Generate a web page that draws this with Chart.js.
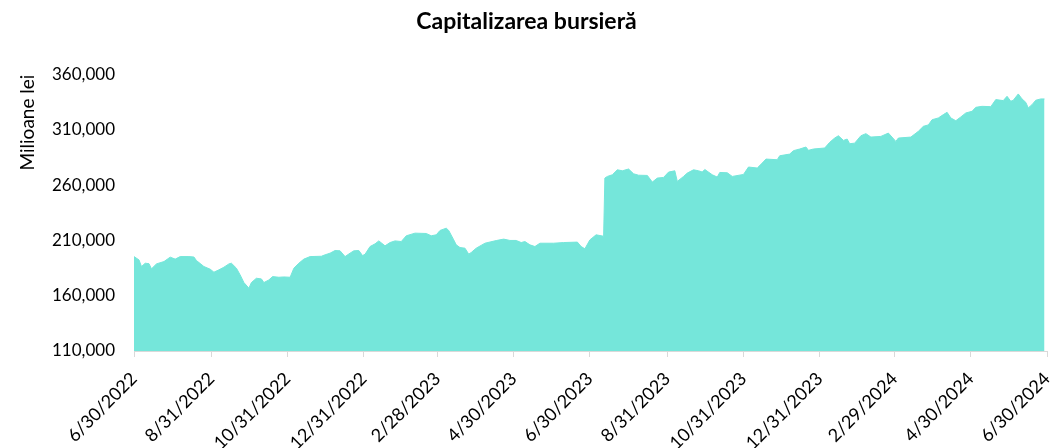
<!DOCTYPE html>
<html>
<head>
<meta charset="utf-8">
<script src="https://cdn.jsdelivr.net/npm/chart.js@4"></script>
<style>
  html, body { margin: 0; padding: 0; background: #fff; }
  #wrap { width: 1053px; height: 448px; }
</style>
</head>
<body>
<div id="wrap"><canvas id="capChart" width="1053" height="448"></canvas></div>
<script>
// --- Data ---
const START_DATE = '2022-06-30';

const dates = [
  '2022-06-30','2022-07-04','2022-07-06','2022-07-09','2022-07-12','2022-07-14','2022-07-18','2022-07-24','2022-07-29',
  '2022-08-02','2022-08-06','2022-08-13','2022-08-17','2022-08-19','2022-08-25','2022-08-30',
  '2022-09-02','2022-09-06','2022-09-10','2022-09-14','2022-09-16','2022-09-20','2022-09-23','2022-09-26','2022-09-30',
  '2022-10-02','2022-10-06','2022-10-10','2022-10-12','2022-10-16','2022-10-19','2022-10-24','2022-10-28',
  '2022-11-02','2022-11-05','2022-11-09','2022-11-13','2022-11-18','2022-11-27','2022-11-30',
  '2022-12-04','2022-12-08','2022-12-12','2022-12-16','2022-12-20','2022-12-23','2022-12-27','2022-12-30',
  '2023-01-01','2023-01-05','2023-01-09','2023-01-12','2023-01-17','2023-01-21','2023-01-25','2023-01-30',
  '2023-02-03','2023-02-10','2023-02-19','2023-02-23','2023-02-27',
  '2023-03-02','2023-03-07','2023-03-09','2023-03-13','2023-03-15','2023-03-18','2023-03-22','2023-03-25','2023-03-27','2023-03-31',
  '2023-04-07','2023-04-16','2023-04-22','2023-04-27',
  '2023-05-02','2023-05-06','2023-05-09','2023-05-13','2023-05-17','2023-05-21',
  '2023-06-01','2023-06-09','2023-06-20','2023-06-23','2023-06-26','2023-06-30',
  '2023-07-05','2023-07-11','2023-07-12','2023-07-14','2023-07-18','2023-07-22','2023-07-26','2023-07-31',
  '2023-08-04','2023-08-08','2023-08-15','2023-08-19','2023-08-23','2023-08-28',
  '2023-09-01','2023-09-06','2023-09-08','2023-09-13','2023-09-16','2023-09-21','2023-09-25','2023-09-28','2023-09-30',
  '2023-10-06','2023-10-10','2023-10-12','2023-10-18','2023-10-22','2023-10-31',
  '2023-11-04','2023-11-11','2023-11-15','2023-11-18','2023-11-27','2023-11-29',
  '2023-12-07','2023-12-10','2023-12-15','2023-12-20','2023-12-22','2023-12-26',
  '2024-01-04','2024-01-08','2024-01-12','2024-01-15','2024-01-19','2024-01-22','2024-01-24','2024-01-28',
  '2024-02-02','2024-02-06','2024-02-10','2024-02-18','2024-02-24',
  '2024-03-01','2024-03-03','2024-03-13','2024-03-19','2024-03-23','2024-03-27','2024-03-30',
  '2024-04-04','2024-04-08','2024-04-11','2024-04-14','2024-04-18','2024-04-22','2024-04-26',
  '2024-05-01','2024-05-04','2024-05-09','2024-05-16','2024-05-20','2024-05-26','2024-05-29',
  '2024-06-01','2024-06-03','2024-06-07','2024-06-10','2024-06-13','2024-06-15','2024-06-18','2024-06-21','2024-06-25','2024-06-28'
];

const capitalizare = [
  195400,192400,186400,189400,189000,184300,188800,190900,194900,
  193100,195400,195400,195000,191800,186400,184000,
  181300,183400,185800,188800,189400,184900,178800,171900,166800,
  171900,175800,175200,171900,174300,177300,176700,177000,
  176700,184900,189400,193100,195400,195700,197000,
  198500,200900,200600,195400,198500,200600,200900,196300,
  197500,204500,206900,209600,205100,208100,209600,209000,
  214200,216600,216300,214200,215100,
  219000,221100,219000,210500,206000,203600,203000,197600,199100,203000,
  207500,209900,211200,210000,
  210000,208100,209000,206000,204500,207500,
  207500,208100,208500,204500,202400,210500,
  215100,213800,266400,267900,269400,273900,273000,274600,
  270300,269000,268800,262800,266400,267000,
  271800,273000,263400,267900,270900,273900,273000,271900,274200,
  269400,267300,271500,271200,267900,269700,
  276400,275500,280000,283600,283000,286600,
  288100,291200,292700,294500,291500,292700,
  293600,298700,302600,304700,300500,301700,297500,298000,
  304700,306600,303500,304100,307100,
  299600,302600,303500,308700,313200,314500,319200,
  320800,323800,325900,320800,318300,321700,325300,
  326800,330400,331300,331000,337400,336500,340400,
  335900,336800,342500,338000,334900,329900,332800,336800,338000,338000
];

const tickDates = [
  '2022-06-30','2022-08-31','2022-10-31','2022-12-31','2023-02-28','2023-04-30','2023-06-30',
  '2023-08-31','2023-10-31','2023-12-31','2024-02-29','2024-04-30','2024-06-30'
];
const tickLabels = [
  '6/30/2022','8/31/2022','10/31/2022','12/31/2022','2/28/2023','4/30/2023','6/30/2023',
  '8/31/2023','10/31/2023','12/31/2023','2/29/2024','4/30/2024','6/30/2024'
];

const Y_MIN = 110000;
const Y_MAX = 360000;
const Y_STEP = 50000;

// --- Helpers ---
const DAY_MS = 24 * 3600 * 1000;
function dayIndex(iso) {
    const [y, m, d] = iso.split('-').map(Number);
    const [y0, m0, d0] = START_DATE.split('-').map(Number);
    return Math.round((Date.UTC(y, m - 1, d) - Date.UTC(y0, m0 - 1, d0)) / DAY_MS);
}

const points = dates.map((d, i) => ({ x: dayIndex(d), y: capitalizare[i] }));
const tickDays = tickDates.map(dayIndex);

const FONT = 'Lato, "Open Sans", sans-serif';
const AXIS_COLOR = '#d9d9d9';

// --- Chart ---
const ctx = document.getElementById('capChart').getContext('2d');

new Chart(ctx, {
    type: 'line',
    data: {
        datasets: [{
            label: 'Capitalizarea bursieră',
            data: points,
            borderColor: '#75e6da',
            backgroundColor: '#75e6da',
            borderWidth: 1,
            pointRadius: 0,
            fill: 'start',
            tension: 0
        }]
    },
    options: {
        responsive: false,
        animation: false,
        layout: { padding: 0 },
        plugins: {
            legend: { display: false },
            tooltip: { enabled: false },
            title: {
                display: true,
                text: 'Capitalizarea bursieră',
                color: '#000',
                font: { family: FONT, size: 23, weight: 'bold', lineHeight: 1.2 },
                padding: { top: 8, bottom: 39 }
            }
        },
        scales: {
            x: {
                type: 'linear',
                min: 0,
                max: tickDays[tickDays.length - 1],
                afterBuildTicks: (scale) => {
                    scale.ticks = tickDays.map(v => ({ value: v }));
                },
                afterFit: (scale) => {
                    scale.height = 97;
                    scale.paddingLeft = 0;
                    scale.paddingRight = 6;
                },
                ticks: {
                    autoSkip: false,
                    minRotation: 45,
                    maxRotation: 45,
                    padding: 11,
                    color: '#000',
                    font: { family: FONT, size: 18 },
                    callback: (value) => {
                        const i = tickDays.indexOf(value);
                        return i >= 0 ? tickLabels[i] : '';
                    }
                },
                grid: {
                    drawOnChartArea: false,
                    drawTicks: true,
                    tickLength: 6,
                    color: AXIS_COLOR
                },
                border: { display: true, color: AXIS_COLOR, width: 1 }
            },
            y: {
                min: Y_MIN,
                max: Y_MAX,
                afterFit: (scale) => {
                    scale.width = 134;
                },
                ticks: {
                    stepSize: Y_STEP,
                    padding: 19,
                    color: '#000',
                    font: { family: FONT, size: 17 },
                    callback: (v) => v.toLocaleString('en-US')
                },
                grid: { display: false, drawTicks: false },
                border: { display: false },
                title: {
                    display: true,
                    text: 'Milioane lei',
                    align: 'end',
                    color: '#000',
                    font: { family: FONT, size: 19 },
                    padding: { top: 16, bottom: 0 }
                }
            }
        }
    }
});
</script>
</body>
</html>
